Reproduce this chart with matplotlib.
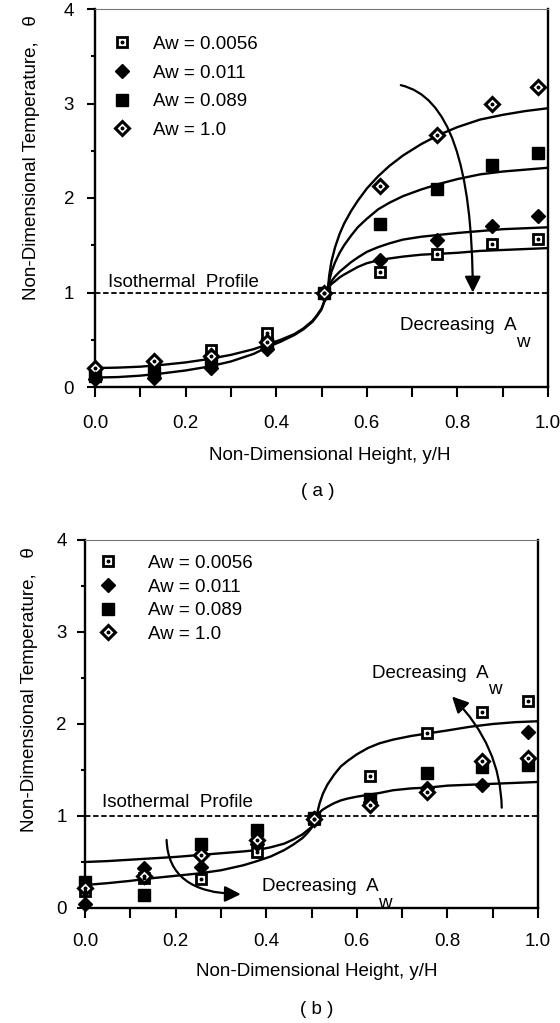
import numpy as np
import matplotlib
matplotlib.use("Agg")
import matplotlib.pyplot as plt
from matplotlib.ticker import MultipleLocator, FormatStrFormatter

plt.rcParams['font.family'] = ['Liberation Sans', 'DejaVu Sans']

# measurement positions (y/H)
x_pts = [0.0, 0.13, 0.255, 0.38, 0.505, 0.63, 0.755, 0.877, 0.977]

labels = ['Aw = 0.0056', 'Aw = 0.011', 'Aw = 0.089', 'Aw = 1.0']

# panel (a) data
a_0056 = [0.15, 0.18, 0.39, 0.57, 1.00, 1.22, 1.41, 1.51, 1.57]
a_011 = [0.08, 0.10, 0.20, 0.40, 1.00, 1.34, 1.56, 1.70, 1.81]
a_089 = [0.12, 0.15, 0.28, 0.45, 1.00, 1.73, 2.10, 2.35, 2.48]
a_10 = [0.20, 0.27, 0.33, 0.48, 1.00, 2.13, 2.67, 2.99, 3.17]

# panel (b) data
b_0056 = [0.18, 0.33, 0.32, 0.61, 0.97, 1.43, 1.90, 2.13, 2.25]
b_011 = [0.04, 0.43, 0.45, 0.70, 0.98, 1.15, 1.30, 1.34, 1.91]
b_089 = [0.28, 0.14, 0.70, 0.85, 0.98, 1.18, 1.47, 1.53, 1.55]
b_10 = [0.22, 0.35, 0.58, 0.74, 0.97, 1.12, 1.26, 1.60, 1.63]

# fitted curves
left_x = [0.0, 0.05, 0.1, 0.15, 0.2, 0.25, 0.3, 0.35, 0.38, 0.41, 0.44,
          0.46, 0.48, 0.49, 0.50, 0.507, 0.514]
a_left_hi = [0.20, 0.205, 0.215, 0.235, 0.26, 0.295, 0.34, 0.40, 0.45, 0.50,
             0.56, 0.62, 0.70, 0.76, 0.83, 0.92, 1.03]
a_left_lo = [0.10, 0.105, 0.12, 0.145, 0.175, 0.215, 0.27, 0.35, 0.42, 0.48,
             0.55, 0.61, 0.69, 0.75, 0.82, 0.91, 1.03]

a_right_x = [0.514, 0.517, 0.522, 0.53, 0.54, 0.55, 0.565, 0.58, 0.60, 0.625,
             0.65, 0.68, 0.72, 0.76, 0.80, 0.85, 0.90, 0.95, 1.0]
a_fit_10 = [1.03, 1.18, 1.33, 1.48, 1.62, 1.73, 1.86, 1.97, 2.10, 2.23,
            2.34, 2.45, 2.57, 2.67, 2.75, 2.83, 2.88, 2.92, 2.95]
a_fit_089 = [1.03, 1.12, 1.22, 1.32, 1.42, 1.50, 1.60, 1.69, 1.78, 1.88,
             1.95, 2.02, 2.09, 2.15, 2.20, 2.25, 2.28, 2.30, 2.32]
a_fit_011 = [1.03, 1.07, 1.12, 1.17, 1.22, 1.26, 1.32, 1.37, 1.43, 1.48,
             1.52, 1.56, 1.59, 1.61, 1.63, 1.65, 1.67, 1.68, 1.69]
a_fit_0056 = [1.03, 1.06, 1.09, 1.12, 1.16, 1.19, 1.23, 1.27, 1.31, 1.34,
              1.36, 1.38, 1.40, 1.41, 1.42, 1.44, 1.45, 1.46, 1.47]

b_left_x = [0.0, 0.05, 0.1, 0.15, 0.2, 0.25, 0.3, 0.35, 0.38, 0.41, 0.44,
            0.46, 0.48, 0.49, 0.50, 0.505, 0.511]
b_left_hi = [0.50, 0.51, 0.525, 0.54, 0.555, 0.575, 0.595, 0.615, 0.63, 0.66,
             0.70, 0.745, 0.80, 0.84, 0.88, 0.92, 0.98]
b_left_lo = [0.25, 0.27, 0.295, 0.325, 0.35, 0.375, 0.41, 0.465, 0.51, 0.56,
             0.63, 0.69, 0.76, 0.81, 0.87, 0.92, 0.98]

b_right_x = [0.511, 0.514, 0.518, 0.525, 0.535, 0.55, 0.565, 0.58, 0.60, 0.625,
             0.65, 0.68, 0.72, 0.76, 0.80, 0.85, 0.90, 0.95, 1.0]
b_fit_hi = [0.98, 1.06, 1.14, 1.24, 1.34, 1.45, 1.54, 1.60, 1.67, 1.74,
            1.79, 1.83, 1.87, 1.90, 1.93, 1.97, 2.00, 2.02, 2.03]
b_fit_lo = [0.98, 1.01, 1.04, 1.07, 1.10, 1.14, 1.17, 1.19, 1.21, 1.23,
            1.25, 1.28, 1.30, 1.31, 1.33, 1.34, 1.35, 1.36, 1.37]

FS = 13.5


def draw_markers(ax, series):
    ys0056, ys011, ys089, ys10 = series
    h1 = ax.plot(x_pts, ys0056, ls='none', marker='s', ms=7.5, mfc='white',
                 mec='black', mew=2.0, clip_on=False, zorder=4)[0]
    h1d = ax.plot(x_pts, ys0056, ls='none', marker='o', ms=1.8, mfc='black',
                  mec='black', clip_on=False, zorder=5)[0]
    h2 = ax.plot(x_pts, ys011, ls='none', marker='D', ms=7, color='black',
                 clip_on=False, zorder=4)[0]
    h3 = ax.plot(x_pts, ys089, ls='none', marker='s', ms=8, color='black',
                 clip_on=False, zorder=4)[0]
    h4 = ax.plot(x_pts, ys10, ls='none', marker='D', ms=7, mfc='white',
                 mec='black', mew=2.2, clip_on=False, zorder=4)[0]
    h4d = ax.plot(x_pts, ys10, ls='none', marker='o', ms=1.8, mfc='black',
                  mec='black', clip_on=False, zorder=5)[0]
    return [(h1, h1d), h2, h3, (h4, h4d)]


def style_axes(ax, ypad, xpad):
    ax.set_xlim(0, 1.0)
    ax.set_ylim(0, 4)
    ax.xaxis.set_major_locator(MultipleLocator(0.2))
    ax.xaxis.set_minor_locator(MultipleLocator(0.1))
    ax.yaxis.set_major_locator(MultipleLocator(1))
    ax.yaxis.set_minor_locator(MultipleLocator(0.5))
    ax.xaxis.set_major_formatter(FormatStrFormatter('%.1f'))
    ax.tick_params(axis='x', which='both', direction='out', length=7, width=1.5,
                   labelsize=FS, pad=xpad)
    ax.tick_params(axis='y', which='major', direction='out', length=6, width=1.5,
                   labelsize=FS, pad=ypad)
    ax.tick_params(axis='y', which='minor', direction='out', length=3, width=1.5)
    for s in ['left', 'bottom', 'right']:
        ax.spines[s].set_linewidth(1.7)
    ax.spines['top'].set_linewidth(0.8)
    ax.spines['top'].set_color('#777777')
    ax.axhline(1.0, color='black', lw=1.3, ls=(0, (3, 1.5)), zorder=2)


def dec_label(ax, x, y):
    t = ax.text(x, y, 'Decreasing  A', fontsize=FS, va='baseline', ha='left')
    ax.annotate('w', xy=(1, 0), xycoords=t, xytext=(-0.5, 0.5),
                textcoords='offset points', fontsize=FS, va='top', ha='left')


def arrow(ax, tip, tail, style):
    ax.annotate('', xy=tip, xytext=tail,
                arrowprops=dict(arrowstyle='-|>', color='black', lw=1.6,
                                mutation_scale=24, connectionstyle=style))


fig = plt.figure(figsize=(5.6, 10.23), dpi=100)

# ---------------- panel (a)
ax = fig.add_axes([95 / 560, 1 - 387 / 1023, 453 / 560, 378 / 1023])
style_axes(ax, 9, 13)
for ys in [a_left_hi, a_left_lo]:
    ax.plot(left_x, ys, color='black', lw=1.7, zorder=3)
for ys in [a_fit_10, a_fit_089, a_fit_011, a_fit_0056]:
    ax.plot(a_right_x, ys, color='black', lw=1.7, zorder=3)
hs = draw_markers(ax, [a_0056, a_011, a_089, a_10])
ax.legend(hs, labels, loc='upper left', bbox_to_anchor=(0.04, 0.929),
          frameon=False, fontsize=FS, handlelength=0.93, handletextpad=1.19,
          labelspacing=0.61, borderpad=0, borderaxespad=0)
ax.text(0.029, 1.06, 'Isothermal  Profile', fontsize=FS, va='baseline')
arrow(ax, (0.834, 0.97), (0.669, 3.2), 'angle3,angleA=-10,angleB=90')
dec_label(ax, 0.673, 0.60)

fig.text(32 / 560, 1 - 158 / 1023, 'Non-Dimensional Temperature,   \u03b8',
         rotation=90, ha='center', va='center', fontsize=FS)
fig.text(330 / 560, 1 - 455 / 1023, 'Non-Dimensional Height, y/H',
         ha='center', va='center', fontsize=FS)
fig.text(318 / 560, 1 - 491 / 1023, '( a )', ha='center', va='center', fontsize=FS)

# ---------------- panel (b)
ax = fig.add_axes([85 / 560, 1 - 908 / 1023, 453 / 560, 368 / 1023])
style_axes(ax, 7, 11)
for ys in [b_left_hi, b_left_lo]:
    ax.plot(b_left_x, ys, color='black', lw=1.7, zorder=3)
for ys in [b_fit_hi, b_fit_lo]:
    ax.plot(b_right_x, ys, color='black', lw=1.7, zorder=3)
hs = draw_markers(ax, [b_0056, b_011, b_089, b_10])
ax.legend(hs, labels, loc='upper left', bbox_to_anchor=(0.032, 0.960),
          frameon=False, fontsize=FS, handlelength=0.93, handletextpad=1.67,
          labelspacing=0.35, borderpad=0, borderaxespad=0)
ax.text(0.037, 1.10, 'Isothermal  Profile', fontsize=FS, va='baseline')
arrow(ax, (0.35, 0.15), (0.18, 0.77), 'angle3,angleA=90,angleB=0')
arrow(ax, (0.806, 2.32), (0.92, 1.06), 'angle3,angleA=90,angleB=-45')
dec_label(ax, 0.39, 0.18)
dec_label(ax, 0.633, 2.50)

fig.text(30 / 560, 1 - 690 / 1023, 'Non-Dimensional Temperature,   \u03b8',
         rotation=90, ha='center', va='center', fontsize=FS)
fig.text(317 / 560, 1 - 972 / 1023, 'Non-Dimensional Height, y/H',
         ha='center', va='center', fontsize=FS)
fig.text(317 / 560, 1 - 1010 / 1023, '( b )', ha='center', va='center', fontsize=FS)

fig.savefig('out.png', dpi=100)
